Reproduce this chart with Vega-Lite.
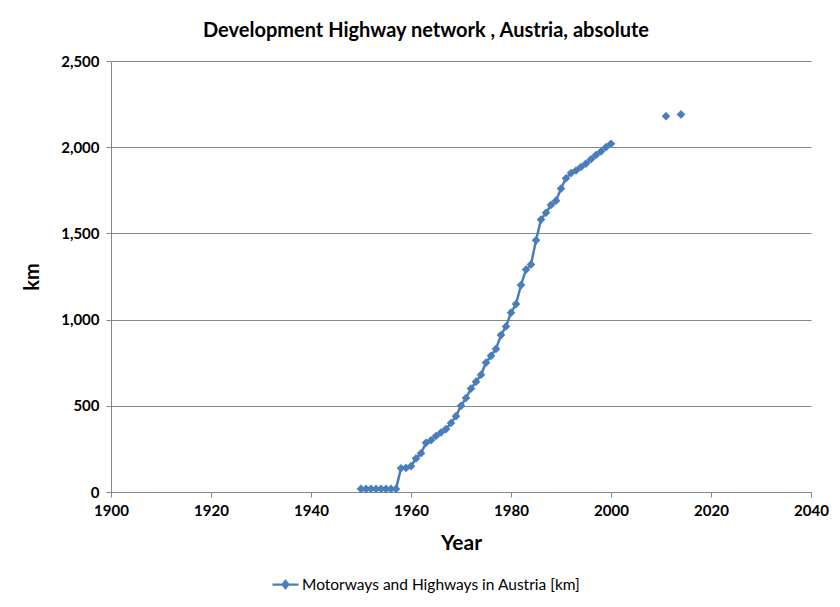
{
  "$schema": "https://vega.github.io/schema/vega-lite/v6.json",
  "autosize": "none",
  "width": 700,
  "height": 431,
  "padding": {"left": 111, "top": 61, "right": 29, "bottom": 115},
  "background": "white",
  "config": {
    "view": {"stroke": null},
    "font": "Lato",
    "axis": {
      "labelFont": "Lato", "titleFont": "Lato",
      "labelFontWeight": "bold", "labelFontSize": 15, "labelColor": "#000000",
      "titleFontWeight": "bold", "titleColor": "#000000",
      "domainColor": "#868686", "tickColor": "#868686", "gridColor": "#868686",
      "tickSize": 5, "labelFlush": false, "labelOverlap": false
    }
  },
  "title": {
    "text": "Development Highway network , Austria, absolute",
    "font": "Lato", "fontSize": 20, "fontWeight": "bold", "color": "#000000",
    "anchor": "middle", "dx": -35, "offset": 13
  },
  "data": {
    "values": [
      {"year": 1950, "km": 18}, {"year": 1951, "km": 18}, {"year": 1952, "km": 18},
      {"year": 1953, "km": 18}, {"year": 1954, "km": 18}, {"year": 1955, "km": 18},
      {"year": 1956, "km": 18}, {"year": 1957, "km": 18}, {"year": 1958, "km": 138},
      {"year": 1959, "km": 140}, {"year": 1960, "km": 150}, {"year": 1961, "km": 195},
      {"year": 1962, "km": 225}, {"year": 1963, "km": 285}, {"year": 1964, "km": 300},
      {"year": 1965, "km": 325}, {"year": 1966, "km": 345}, {"year": 1967, "km": 365},
      {"year": 1968, "km": 400}, {"year": 1969, "km": 440}, {"year": 1970, "km": 500},
      {"year": 1971, "km": 545}, {"year": 1972, "km": 600}, {"year": 1973, "km": 640},
      {"year": 1974, "km": 680}, {"year": 1975, "km": 750}, {"year": 1976, "km": 790},
      {"year": 1977, "km": 830}, {"year": 1978, "km": 910}, {"year": 1979, "km": 960},
      {"year": 1980, "km": 1040}, {"year": 1981, "km": 1090}, {"year": 1982, "km": 1200},
      {"year": 1983, "km": 1290}, {"year": 1984, "km": 1320}, {"year": 1985, "km": 1460},
      {"year": 1986, "km": 1580}, {"year": 1987, "km": 1620}, {"year": 1988, "km": 1665},
      {"year": 1989, "km": 1690}, {"year": 1990, "km": 1760}, {"year": 1991, "km": 1820},
      {"year": 1992, "km": 1850}, {"year": 1993, "km": 1865}, {"year": 1994, "km": 1885},
      {"year": 1995, "km": 1905}, {"year": 1996, "km": 1930}, {"year": 1997, "km": 1955},
      {"year": 1998, "km": 1975}, {"year": 1999, "km": 2000}, {"year": 2000, "km": 2020},
      {"year": 2011, "km": 2180}, {"year": 2014, "km": 2190}
    ]
  },
  "encoding": {
    "x": {
      "field": "year", "type": "quantitative",
      "scale": {"domain": [1900, 2040], "nice": false, "zero": false},
      "axis": {"values": [1900, 1920, 1940, 1960, 1980, 2000, 2020, 2040], "format": "d",
               "grid": false, "title": "Year", "titleFontSize": 21, "titlePadding": 14, "labelPadding": 6}
    },
    "y": {
      "field": "km", "type": "quantitative",
      "scale": {"domain": [0, 2500], "nice": false},
      "axis": {"values": [0, 500, 1000, 1500, 2000, 2500], "format": ",.0f",
               "grid": true, "title": "km", "titleFontSize": 20, "titlePadding": 18, "labelPadding": 7}
    },
    "color": {
      "datum": "Motorways and Highways in Austria [km]",
      "type": "nominal",
      "scale": {"range": ["#4a7ebb"]},
      "legend": {
        "orient": "none", "legendX": 160, "legendY": 509, "direction": "horizontal",
        "title": null, "labelFont": "Lato", "labelFontSize": 15.5, "labelColor": "#000000",
        "labelLimit": 500,
        "symbolType": "M-1,0L1,0M0,-0.28L0.22,0L0,0.28L-0.22,0Z",
        "symbolSize": 676, "symbolStrokeWidth": 2.25, "symbolFillColor": "#4a7ebb", "symbolStrokeColor": "#4a7ebb",
        "labelOffset": 2
      }
    }
  },
  "layer": [
    {
      "transform": [{"filter": "datum.year <= 2000"}],
      "mark": {"type": "line", "strokeWidth": 2.5}
    },
    {
      "mark": {"type": "point", "shape": "diamond", "filled": true, "size": 75, "opacity": 1}
    }
  ]
}
